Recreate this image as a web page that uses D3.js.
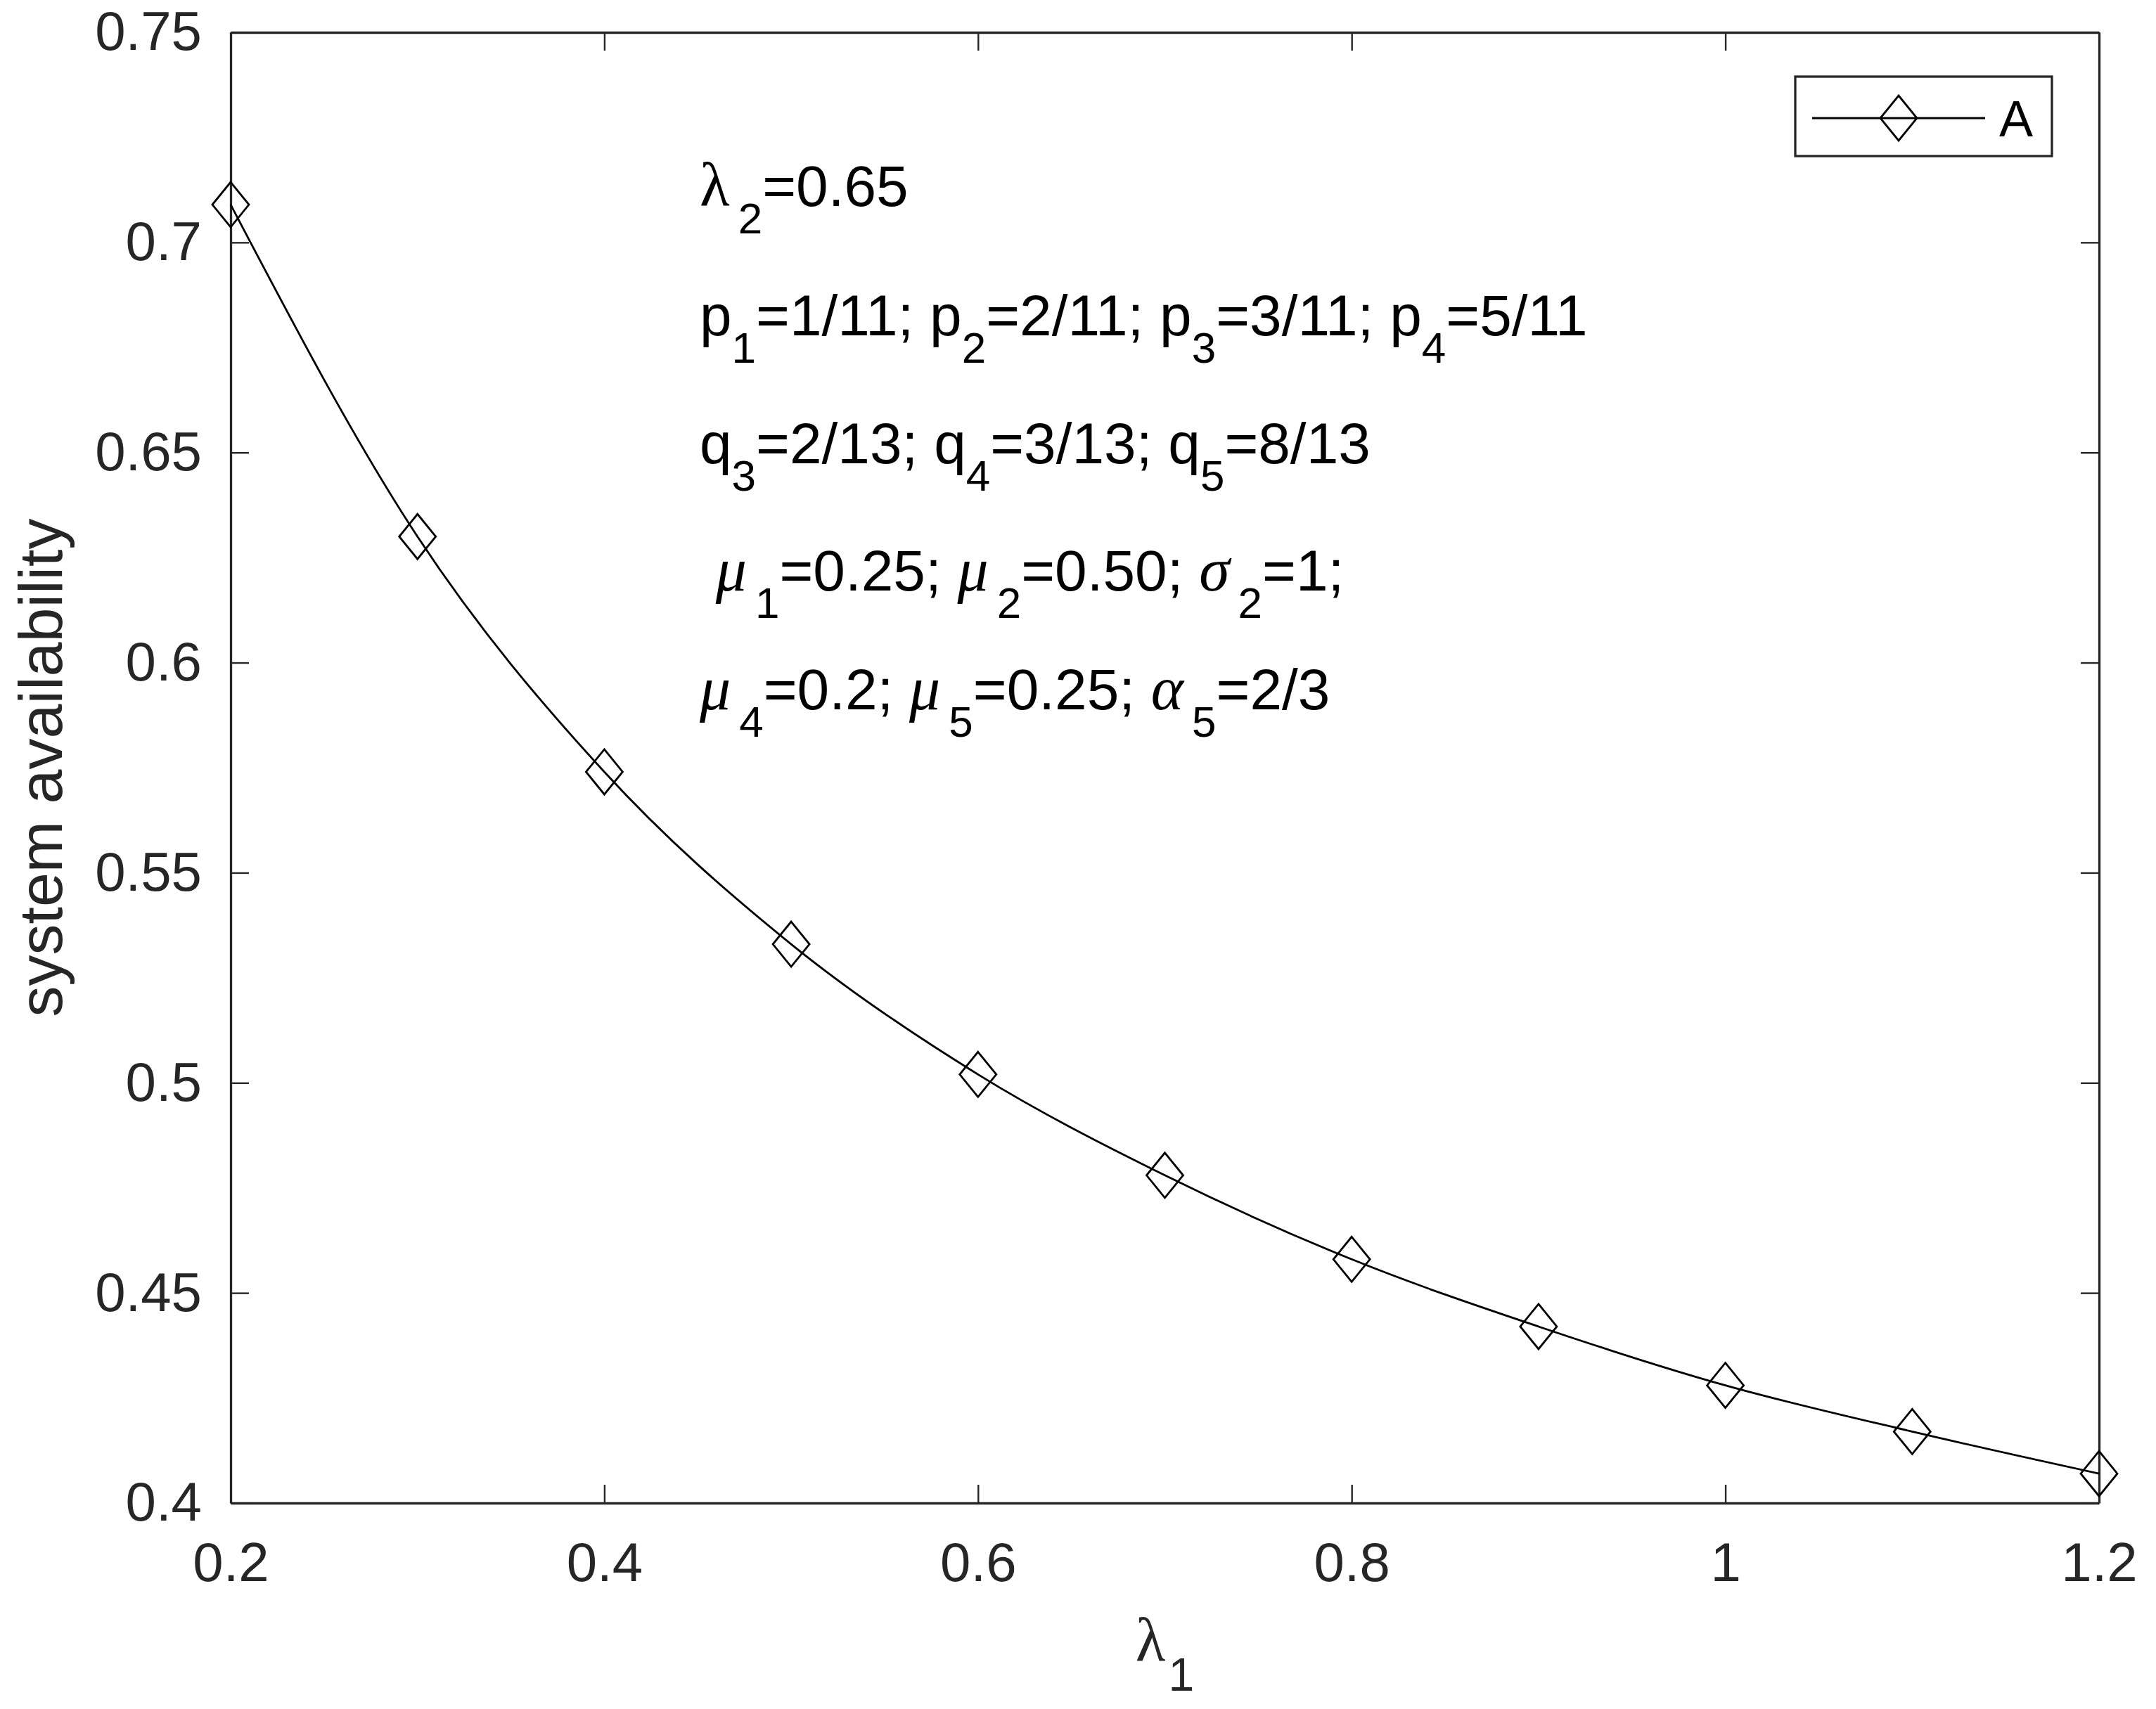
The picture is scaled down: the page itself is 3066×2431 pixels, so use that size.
<!DOCTYPE html>
<html>
<head>
<meta charset="utf-8">
<script src="https://cdn.jsdelivr.net/npm/d3@7"></script>
<style>
  html, body { margin: 0; padding: 0; background: #fff; }
  svg { display: block; }
  text { font-family: "Liberation Sans", Arial, Helvetica, sans-serif; }
</style>
</head>
<body>
<svg id="chart" width="3066" height="2431"></svg>
<script>
// ---- data ----
const lambda1 = [0.2, 0.3, 0.4, 0.5, 0.6, 0.7, 0.8, 0.9, 1.0, 1.1, 1.2];
const availability = [0.709, 0.630, 0.574, 0.533, 0.502, 0.478, 0.458, 0.442, 0.428, 0.417, 0.407];
const xTicks = [0.2, 0.4, 0.6, 0.8, 1.0, 1.2];
const xTickLabels = ["0.2", "0.4", "0.6", "0.8", "1", "1.2"];
const yTicks = [0.4, 0.45, 0.5, 0.55, 0.6, 0.65, 0.7, 0.75];
const yTickLabels = ["0.4", "0.45", "0.5", "0.55", "0.6", "0.65", "0.7", "0.75"];
const seriesName = "A";
const yLabel = "system availability";
// annotation lines: [text, kind] where kind n=normal, s=subscript, g=greek, gi=italic greek
const annotLines = [
  [["\u03bb", "g"], ["2", "s"], ["=0.65", "n"]],
  [["p", "n"], ["1", "s"], ["=1/11; p", "n"], ["2", "s"], ["=2/11; p", "n"], ["3", "s"], ["=3/11; p", "n"], ["4", "s"], ["=5/11", "n"]],
  [["q", "n"], ["3", "s"], ["=2/13; q", "n"], ["4", "s"], ["=3/13; q", "n"], ["5", "s"], ["=8/13", "n"]],
  [[" ", "n"], ["\u03bc", "gi"], ["1", "s"], ["=0.25; ", "n"], ["\u03bc", "gi"], ["2", "s"], ["=0.50; ", "n"], ["\u03c3", "gi"], ["2", "s"], ["=1;", "n"]],
  [["\u03bc", "gi"], ["4", "s"], ["=0.2; ", "n"], ["\u03bc", "gi"], ["5", "s"], ["=0.25; ", "n"], ["\u03b1", "gi"], ["5", "s"], ["=2/3", "n"]]
];

// ---- layout ----
const W = 3066, H = 2431;
const plot = { left: 328, top: 46, right: 2985, bottom: 2138 };
const axisColor = "#262626";
const tickLen = 26;
const tickFont = 78;
const labelFont = 88;
const annotFont = 82;
const subFont = 62;
const greekFont = 88;

const svg = d3.select("#chart");
svg.append("rect").attr("width", W).attr("height", H).attr("fill", "#fff");

const x = d3.scaleLinear().domain([0.2, 1.2]).range([plot.left, plot.right]);
const y = d3.scaleLinear().domain([0.4, 0.75]).range([plot.bottom, plot.top]);

function styleAxis(g) {
  g.select(".domain").attr("stroke", axisColor).attr("stroke-width", 3.3);
  g.selectAll(".tick line").attr("stroke", axisColor).attr("stroke-width", 2.4);
  g.selectAll(".tick text").attr("fill", axisColor).attr("font-size", tickFont)
    .attr("font-family", "'Liberation Sans', Arial, Helvetica, sans-serif");
}

// bottom
svg.append("g").attr("transform", `translate(0,${plot.bottom})`)
  .call(d3.axisBottom(x).tickValues(xTicks).tickSize(-tickLen).tickSizeOuter(0).tickPadding(56)
    .tickFormat((d, i) => xTickLabels[i]))
  .call(styleAxis);
// top
svg.append("g").attr("transform", `translate(0,${plot.top})`)
  .call(d3.axisTop(x).tickValues(xTicks).tickSize(-tickLen).tickSizeOuter(0).tickFormat(""))
  .call(styleAxis);
// left
svg.append("g").attr("transform", `translate(${plot.left},0)`)
  .call(d3.axisLeft(y).tickValues(yTicks).tickSize(-tickLen).tickSizeOuter(0).tickPadding(41)
    .tickFormat((d, i) => yTickLabels[i]))
  .call(styleAxis);
// right
svg.append("g").attr("transform", `translate(${plot.right},0)`)
  .call(d3.axisRight(y).tickValues(yTicks).tickSize(-tickLen).tickSizeOuter(0).tickFormat(""))
  .call(styleAxis);

// ---- series ----
const pts = lambda1.map((v, i) => [v, availability[i]]);
const line = d3.line().x(d => x(d[0])).y(d => y(d[1])).curve(d3.curveMonotoneX);
svg.append("path").datum(pts).attr("d", line)
  .attr("fill", "none").attr("stroke", "#000").attr("stroke-width", 2.8);

const mw = 26, mh = 32;
const diamond = `M0,${-mh}L${mw},0L0,${mh}L${-mw},0Z`;
svg.append("g").selectAll("path").data(pts).join("path")
  .attr("d", diamond)
  .attr("transform", d => `translate(${x(d[0])},${y(d[1])})`)
  .attr("fill", "none").attr("stroke", "#000").attr("stroke-width", 2.8);

// ---- axis labels ----
const xl = svg.append("text").attr("x", (plot.left + plot.right) / 2).attr("y", 2363)
  .attr("text-anchor", "middle").attr("fill", axisColor).attr("font-size", labelFont);
xl.append("tspan").attr("font-family", "'Liberation Serif', 'DejaVu Serif', serif").text("\u03bb");
xl.append("tspan").attr("font-size", 66).attr("dy", 42).attr("dx", 4).text("1");

svg.append("text").attr("transform", `translate(88,${(plot.top + plot.bottom) / 2}) rotate(-90)`)
  .attr("text-anchor", "middle").attr("fill", axisColor).attr("font-size", labelFont)
  .text(yLabel);

// ---- annotation ----
const annotBaselines = [293, 477, 659, 840, 1009];
annotLines.forEach((segs, li) => {
  const t = svg.append("text").attr("x", 995).attr("y", annotBaselines[li])
    .attr("font-size", annotFont).attr("fill", "#000").style("white-space", "pre");
  let shifted = false;
  let prevGreek = false;
  segs.forEach(([txt, kind]) => {
    const ts = t.append("tspan").text(txt);
    if (kind === "s") {
      ts.attr("font-size", subFont).attr("dy", 39);
      if (prevGreek) ts.attr("dx", 12);
      shifted = true;
      prevGreek = false;
    } else {
      if (shifted) { ts.attr("dy", -39); shifted = false; }
      prevGreek = false;
      if (kind === "g" || kind === "gi") {
        ts.attr("font-family", "'Liberation Serif', 'DejaVu Serif', serif").attr("font-size", greekFont);
        if (kind === "gi") ts.attr("font-style", "italic");
        prevGreek = true;
      }
    }
  });
});

// ---- legend ----
const leg = svg.append("g");
leg.append("rect").attr("x", 2553).attr("y", 109).attr("width", 365).attr("height", 113)
  .attr("fill", "#fff").attr("stroke", axisColor).attr("stroke-width", 3.3);
leg.append("line").attr("x1", 2577).attr("x2", 2823).attr("y1", 168).attr("y2", 168)
  .attr("stroke", "#000").attr("stroke-width", 2.8);
leg.append("path").attr("d", diamond).attr("transform", "translate(2700,168)")
  .attr("fill", "none").attr("stroke", "#000").attr("stroke-width", 2.8);
leg.append("text").attr("x", 2843).attr("y", 194).attr("font-size", 72).attr("fill", "#000")
  .text(seriesName);
</script>
</body>
</html>
